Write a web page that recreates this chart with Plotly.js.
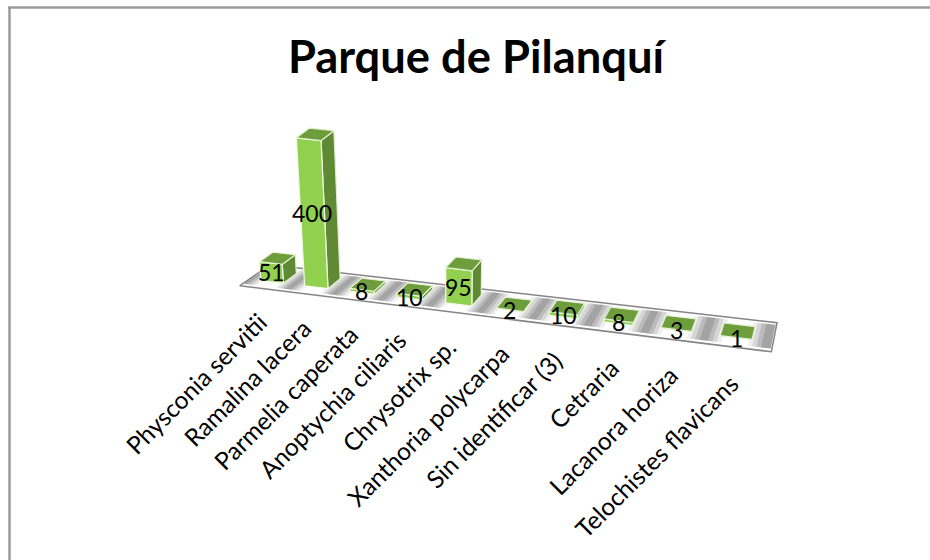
<!DOCTYPE html>
<html>
<head>
<meta charset="utf-8">
<script src="https://cdn.plot.ly/plotly-3.0.1.min.js"></script>
<style>html,body{margin:0;padding:0;background:#fff}#chart{width:930px;height:560px}</style>
</head>
<body>
<div id="chart"></div>
<script>
const titleText = "Parque de Pilanquí";
const categories = ["Physconia servitii","Ramalina lacera","Parmelia caperata","Anoptychia ciliaris","Chrysotrix sp.","Xanthoria polycarpa","Sin identificar (3)","Cetraria","Lacanora horiza","Telochistes flavicans"];
const values = [51,400,8,10,95,2,10,8,3,1];

// Corners of the 3D view that bound the categories (back-left, back-right, front-right, front-left)
const floorQuad = [[271,265],[771,322],[765,351],[241,286]];
const floorExtraL = 0.03, floorExtraR = 0.1, barU = 0.52, barV0 = 0.24, barV1 = 0.69, zScale = 0.37, vpX = 450, vpD = 2600;

function makeHomography(q){
  const [p0,p1,p2,p3]=q;
  const dx1=p1[0]-p2[0],dx2=p3[0]-p2[0],sx=p0[0]-p1[0]+p2[0]-p3[0];
  const dy1=p1[1]-p2[1],dy2=p3[1]-p2[1],sy=p0[1]-p1[1]+p2[1]-p3[1];
  const det=dx1*dy2-dx2*dy1;
  const g=(sx*dy2-dx2*sy)/det,h=(dx1*sy-sx*dy1)/det;
  const a=p1[0]-p0[0]+g*p1[0],b=p3[0]-p0[0]+h*p3[0],c=p0[0];
  const d=p1[1]-p0[1]+g*p1[1],e=p3[1]-p0[1]+h*p3[1],f=p0[1];
  return (s,t)=>{const w=g*s+h*t+1;return [(a*s+b*t+c)/w,(d*s+e*t+f)/w];};
}
const hom = makeHomography(floorQuad);
const n = categories.length;
function P(u,v,z){
  const p = hom(u/n,v);
  const zz = (z||0)*zScale;
  return [p[0]+zz*(p[0]-vpX)/vpD, p[1]-zz];
}
const traces=[];
function poly(pts,fill,lineColor,lineWidth){
  traces.push({type:"scatter",mode:"lines",x:pts.map(p=>p[0]).concat(pts[0][0]),y:pts.map(p=>p[1]).concat(pts[0][1]),
    fill:"toself",fillcolor:fill,line:{color:lineColor||fill,width:lineWidth===undefined?0:lineWidth},hoverinfo:"skip",showlegend:false});
}
function grey(frac){
  const k=Math.min(1,frac*1.7);
  const c=Math.round(150+(255-150)*k);
  return "rgb("+c+","+c+","+c+")";
}
const stripsPerCat=14;
const uL=-floorExtraL,uR=n+floorExtraR;
poly([P(uL,0),P(uR,0),P(uR,1),P(uL,1)],"#ffffff");
for(let i=0;i<n*stripsPerCat+1;i++){
  const u0=i/stripsPerCat,u1=(i+1)/stripsPerCat,um=(u0+u1)/2;
  const fr=1-Math.abs((((um%1)+1)%1)-0.5)*2;
  poly([P(u0,0.08),P(u1+0.01,0.08),P(u1+0.01,0.9),P(u0,0.9)],grey(fr));
}
const fl=[P(uL,0),P(uR,0),P(uR,1),P(uL,1),P(uL,0)];
traces.push({type:"scatter",mode:"lines",x:fl.map(p=>p[0]),y:fl.map(p=>p[1]),line:{color:"#858585",width:1.5},hoverinfo:"skip",showlegend:false});
const anns=[];
const fontFam="Lato, Carlito, sans-serif";
values.forEach((val,i)=>{
  const c=i+0.5,u0=c-barU/2,u1=c+barU/2,v0=barV0,v1=barV1;
  poly([P(u1,v1,0),P(u1,v0,0),P(u1,v0,val),P(u1,v1,val)],"#5f8a33","#dfeccd",1.2);
  poly([P(u0,v1,0),P(u1,v1,0),P(u1,v1,val),P(u0,v1,val)],"#92d050","#f4faea",1.2);
  poly([P(u0,v0,val),P(u1,v0,val),P(u1,v1,val),P(u0,v1,val)],"#6e9e3c","#e4f0d4",1.2);
  const lp=P(c,v1,val/2);
  anns.push({x:lp[0],y:lp[1],xref:"x",yref:"y",text:String(val),showarrow:false,xanchor:"center",yanchor:"middle",
    font:{family:fontFam,size:23,color:"#000"}});
  const tp=P(c,1,0);
  anns.push({x:tp[0]+12+i*0.2,y:tp[1]+16+i*0.3,xref:"x",yref:"y",text:categories[i],showarrow:false,textangle:-45,xanchor:"right",yanchor:"top",
    font:{family:fontFam,size:24.5,color:"#000"}});
});
const layout={
  width:930,height:560,margin:{l:0,r:0,t:0,b:0},paper_bgcolor:"#fff",plot_bgcolor:"#fff",showlegend:false,
  title:{text:titleText,x:476/930,xanchor:"center",y:1-57.5/560,yanchor:"middle",font:{family:fontFam,size:45.3,color:"#000",weight:700}},
  xaxis:{range:[0,930],visible:false,fixedrange:true},
  yaxis:{range:[560,0],visible:false,fixedrange:true},
  annotations:anns,
  shapes:[
    {type:"line",xref:"paper",yref:"paper",x0:9.5/930,x1:9.5/930,y0:0,y1:1-7/560,line:{color:"#9a9a9a",width:2.5}},
    {type:"line",xref:"paper",yref:"paper",x0:8/930,x1:1,y0:1-7.5/560,y1:1-7.5/560,line:{color:"#9a9a9a",width:2.5}}
  ]
};
Plotly.newPlot("chart",traces,layout,{displayModeBar:false,staticPlot:true});
</script>
</body>
</html>
